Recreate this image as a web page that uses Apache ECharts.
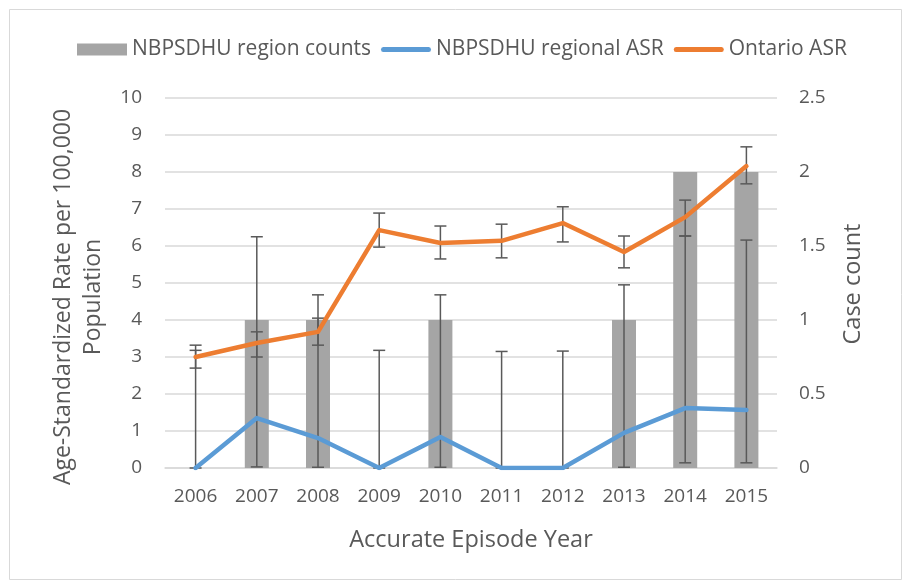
<!DOCTYPE html>
<html>
<head>
<meta charset="utf-8">
<script src="https://cdn.jsdelivr.net/npm/echarts@6/dist/echarts.min.js"></script>
<style>
html,body{margin:0;padding:0;background:#fff;}
#chart{width:907px;height:584px;}
</style>
</head>
<body>
<div id="chart"></div>
<script>
const years = ['2006','2007','2008','2009','2010','2011','2012','2013','2014','2015'];
const regionCounts = [0, 1, 1, 0, 1, 0, 0, 1, 2, 2];
const regionalASR = [0, 1.35, 0.81, 0, 0.84, 0, 0, 0.95, 1.62, 1.57];
const regionalLow = [0, 0.03, 0.02, 0, 0.02, 0, 0, 0.02, 0.14, 0.14];
const regionalHigh = [3.18, 6.25, 4.68, 3.18, 4.68, 3.15, 3.16, 4.95, 6.27, 6.16];
const ontarioASR = [3.0, 3.38, 3.68, 6.43, 6.08, 6.14, 6.62, 5.84, 6.78, 8.16];
const ontarioLow = [2.70, 3.0, 3.32, 5.97, 5.65, 5.68, 6.11, 5.41, 6.27, 7.68];
const ontarioHigh = [3.32, 3.68, 4.05, 6.89, 6.54, 6.59, 7.06, 6.27, 7.24, 8.68];
const leftTicks = {min: 0, max: 10, interval: 1};
const rightTicks = {min: 0, max: 2.5, interval: 0.5};

const FONT = '"Open Sans", sans-serif';
const TXT = '#595959';
const ERR = '#595959';
const LINE_ICON = 'path://M0,0M56,12M2.5,3.5h51a2.5,2.5 0 0 1 0,5h-51a2.5,2.5 0 0 1 0,-5z';

function errData(lo, hi) {
  return years.map((y, i) => [i, lo[i], hi[i]]);
}
function errRender(params, api) {
  const x = api.value(0);
  const p1 = api.coord([x, api.value(1)]);
  const p2 = api.coord([x, api.value(2)]);
  const cw = 6;
  const st = {stroke: ERR, lineWidth: 1.5};
  return {
    type: 'group',
    children: [
      {type: 'line', shape: {x1: p1[0], y1: p1[1], x2: p2[0], y2: p2[1]}, style: st},
      {type: 'line', shape: {x1: p1[0]-cw, y1: p1[1], x2: p1[0]+cw, y2: p1[1]}, style: st},
      {type: 'line', shape: {x1: p2[0]-cw, y1: p2[1], x2: p2[0]+cw, y2: p2[1]}, style: st}
    ]
  };
}

const chart = echarts.init(document.getElementById('chart'), null, {renderer: 'canvas'});
chart.setOption({
  animation: false,
  backgroundColor: '#fff',
  textStyle: {fontFamily: FONT},
  grid: {left: 165, right: 130, top: 98, bottom: 116, containLabel: false},
  legend: {
    data: [
      {name: 'NBPSDHU region counts', icon: 'rect', itemStyle: {color: '#A5A5A5'}},
      {name: 'NBPSDHU regional ASR', icon: LINE_ICON, itemStyle: {color: '#5B9BD5'}},
      {name: 'Ontario ASR', icon: LINE_ICON, itemStyle: {color: '#ED7D31'}}
    ],
    left: 72, top: 34,
    itemWidth: 50, itemHeight: 12, itemGap: 10,
    symbolKeepAspect: false,
    textStyle: {fontFamily: FONT, fontSize: 21, color: TXT}
  },
  graphic: [
    {type: 'rect', left: 7, top: 7, shape: {width: 892, height: 570},
     style: {fill: 'none', stroke: '#d9d9d9', lineWidth: 1}, silent: true},
    {type: 'text', x: 78, y: 297, rotation: Math.PI / 2,
     style: {text: 'Age-Standardized Rate per 100,000\nPopulation', fontFamily: FONT, fontSize: 23,
       lineHeight: 30, fill: TXT, align: 'center', verticalAlign: 'middle'}},
    {type: 'text', x: 853, y: 284, rotation: Math.PI / 2,
     style: {text: 'Case count', fontFamily: FONT, fontSize: 23.5, fill: TXT, align: 'center', verticalAlign: 'middle'}},
    {type: 'text', x: 471, y: 540,
     style: {text: 'Accurate Episode Year', fontFamily: FONT, fontSize: 23.5, fill: TXT, align: 'center', verticalAlign: 'middle'}}
  ],
  xAxis: {
    type: 'category', data: years, boundaryGap: true,
    axisLine: {lineStyle: {color: '#d9d9d9', width: 1.5}},
    axisTick: {show: false},
    axisLabel: {color: TXT, fontSize: 19, fontFamily: FONT, margin: 19}
  },
  yAxis: [
    {type: 'value', min: leftTicks.min, max: leftTicks.max, interval: leftTicks.interval,
     axisLine: {show: false}, axisTick: {show: false},
     axisLabel: {color: TXT, fontSize: 19, fontFamily: FONT, margin: 23},
     splitLine: {lineStyle: {color: '#d9d9d9', width: 1.5}}},
    {type: 'value', min: rightTicks.min, max: rightTicks.max, interval: rightTicks.interval,
     axisLine: {show: false}, axisTick: {show: false},
     axisLabel: {color: TXT, fontSize: 19, fontFamily: FONT, margin: 22},
     splitLine: {show: false}}
  ],
  series: [
    {name: 'NBPSDHU region counts', type: 'bar', yAxisIndex: 1, data: regionCounts,
     barWidth: 24, itemStyle: {color: '#A5A5A5'}, z: 1},
    {name: 'regional CI', type: 'custom', yAxisIndex: 0, data: errData(regionalLow, regionalHigh),
     renderItem: errRender, encode: {x: 0, y: [1, 2]}, z: 2, silent: true},
    {name: 'NBPSDHU regional ASR', type: 'line', yAxisIndex: 0, data: regionalASR,
     symbol: 'none', itemStyle: {color: '#5B9BD5'},
     lineStyle: {color: '#5B9BD5', width: 4.5, cap: 'round', join: 'round'}, z: 3},
    {name: 'ontario CI', type: 'custom', yAxisIndex: 0, data: errData(ontarioLow, ontarioHigh),
     renderItem: errRender, encode: {x: 0, y: [1, 2]}, z: 4, silent: true},
    {name: 'Ontario ASR', type: 'line', yAxisIndex: 0, data: ontarioASR,
     symbol: 'none', itemStyle: {color: '#ED7D31'},
     lineStyle: {color: '#ED7D31', width: 4.5, cap: 'round', join: 'round'}, z: 5}
  ]
});
</script>
</body>
</html>
